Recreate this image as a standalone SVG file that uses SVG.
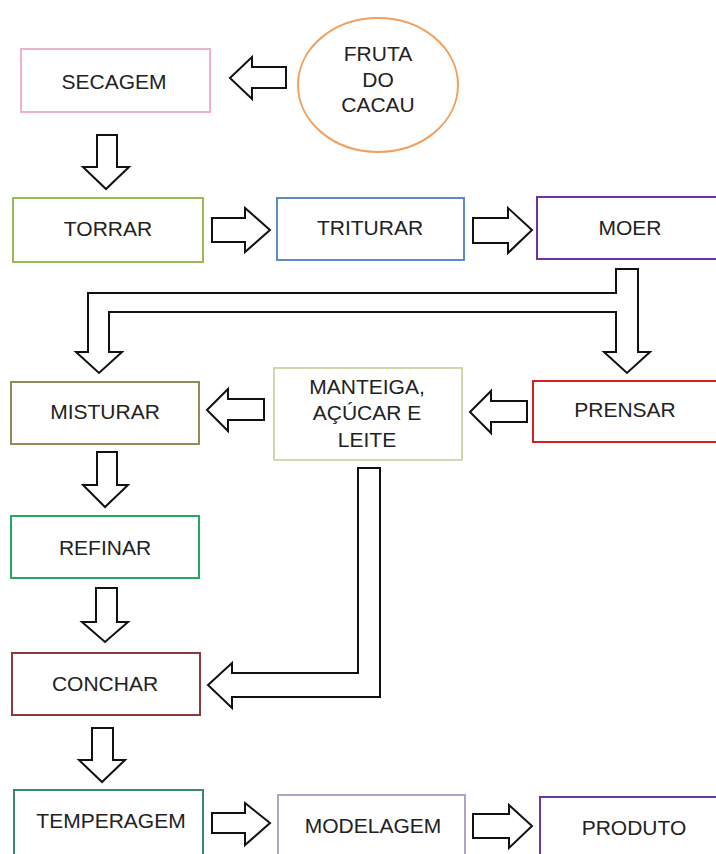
<svg xmlns="http://www.w3.org/2000/svg" width="716" height="854" viewBox="0 0 716 854">
<style>
.box{fill:#fff;stroke-width:2}
.t{font-family:"Liberation Sans",Arial,sans-serif;font-size:21px;fill:#222;text-anchor:middle}
.arr{fill:#fff;stroke:#111;stroke-width:2;stroke-linejoin:miter}
</style>
<rect width="716" height="854" fill="#fff"/>
<g id="connectors">
<polygon class="arr" points="230,78 252,57 252,67 286,67 286,88 252,88 252,99"/>
<polygon class="arr" points="97,135 117,135 117,167 129,167 106,189 83,167 97,167"/>
<polygon class="arr" points="212,218 245,218 245,208 270,230 245,252 245,242 212,242"/>
<polygon class="arr" points="473,218 508,218 508,208 532,230 508,253 508,243 473,243"/>
<polygon class="arr" points="616,269 638,269 638,352 650,352 627,373 604,352 616,352 616,312 109,312 109,352 122,352 99,373 76,352 88,352 88,293 616,293"/>
<polygon class="arr" points="470,412 491,391 491,401 527,401 527,422 491,422 491,433"/>
<polygon class="arr" points="207,410 228,389 228,399 264,399 264,420 228,420 228,431"/>
<polygon class="arr" points="97,452 117,452 117,485 128,485 105,507 83,485 97,485"/>
<polygon class="arr" points="96,588 117,588 117,622 128,622 105,642 82,622 96,622"/>
<polygon class="arr" points="358,468 380,468 380,697 232,697 232,708 208,685 232,663 232,673 358,673"/>
<polygon class="arr" points="92,728 113,728 113,760 125,760 102,782 79,760 92,760"/>
<polygon class="arr" points="212,813 245,813 245,803 270,823 245,845 245,833 212,833"/>
<polygon class="arr" points="473,814 509,814 509,805 532,826 509,848 509,838 473,838"/>
</g>
<g id="fruta"><ellipse cx="378" cy="85" rx="80" ry="67" fill="#fff" stroke="#f0a060" stroke-width="2"/>
<text class="t" x="378" y="61">FRUTA</text><text class="t" x="378" y="87">DO</text><text class="t" x="378" y="112">CACAU</text></g>
<g id="secagem"><rect class="box" x="21" y="49" width="189" height="63" stroke="#eeb4c4"/><text class="t" x="114" y="89">SECAGEM</text></g>
<g id="torrar"><rect class="box" x="13" y="198" width="190" height="64" stroke="#9bbb59"/><text class="t" x="108" y="236">TORRAR</text></g>
<g id="triturar"><rect class="box" x="277" y="198" width="187" height="62" stroke="#5b8ac6"/><text class="t" x="370" y="235">TRITURAR</text></g>
<g id="moer"><rect class="box" x="537" y="197" width="190" height="62" stroke="#7030a0"/><text class="t" x="630" y="235">MOER</text></g>
<g id="misturar"><rect class="box" x="11" y="382" width="188" height="62" stroke="#948a54"/><text class="t" x="105" y="419">MISTURAR</text></g>
<g id="manteiga"><rect class="box" x="274" y="368" width="188" height="92" stroke="#cdd8ae"/><text class="t" x="367" y="394">MANTEIGA,</text><text class="t" x="367" y="420">AÇÚCAR E</text><text class="t" x="367" y="447">LEITE</text></g>
<g id="prensar"><rect class="box" x="533" y="381" width="190" height="61" stroke="#d42020"/><text class="t" x="625" y="417">PRENSAR</text></g>
<g id="refinar"><rect class="box" x="11" y="516" width="188" height="62" stroke="#24a860"/><text class="t" x="105" y="555">REFINAR</text></g>
<g id="conchar"><rect class="box" x="12" y="653" width="188" height="62" stroke="#8b3a3a"/><text class="t" x="105" y="691">CONCHAR</text></g>
<g id="temperagem"><rect class="box" x="14" y="790" width="189" height="70" stroke="#3a8a6a"/><text class="t" x="111" y="828">TEMPERAGEM</text></g>
<g id="modelagem"><rect class="box" x="278" y="795" width="187" height="65" stroke="#b3a2c7"/><text class="t" x="373" y="833">MODELAGEM</text></g>
<g id="produto"><rect class="box" x="540" y="797" width="190" height="65" stroke="#6a3a9a"/><text class="t" x="634" y="835">PRODUTO</text></g>
</svg>
